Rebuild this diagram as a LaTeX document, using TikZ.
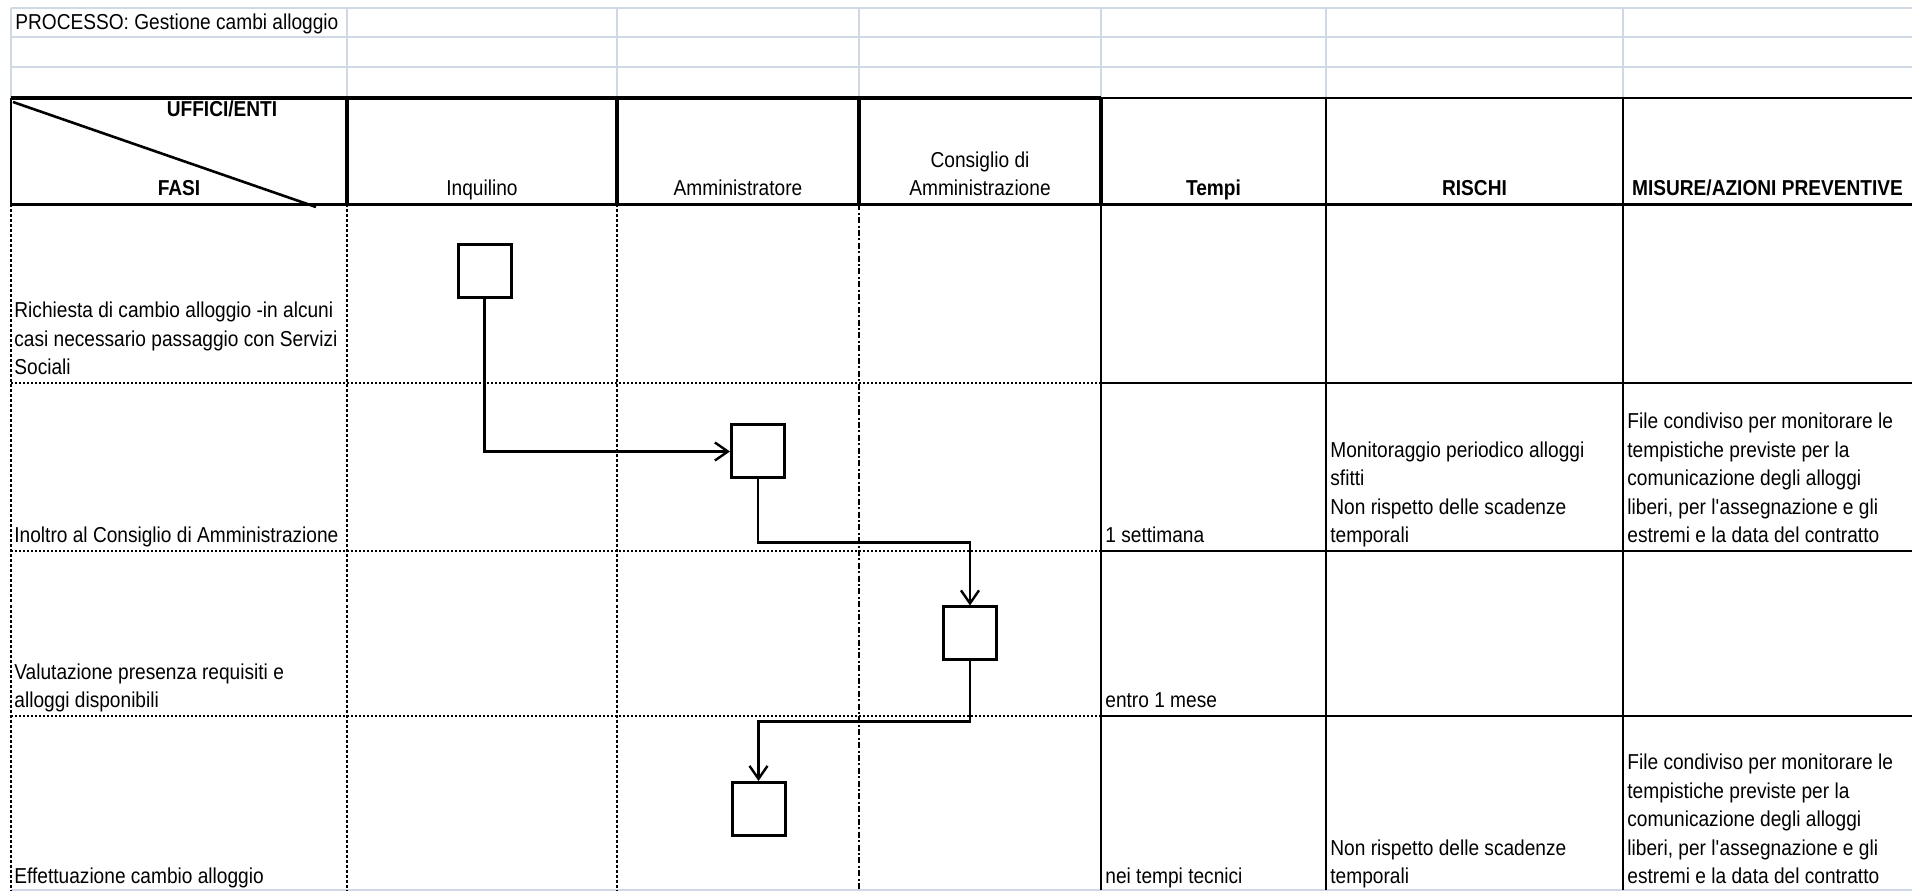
\documentclass[tikz,border=0pt]{standalone}
\usepackage{fontspec}
\setmainfont[FakeStretch=0.885]{Liberation Sans}
\usetikzlibrary{arrows.meta}
\definecolor{gridgrey}{RGB}{208,215,229}
\newcommand\lstr{\rule[-3pt]{0pt}{3pt}}
\newcommand\sq{\XeTeXglyph\XeTeXcharglyph"0027\relax}
\begin{document}
\begin{tikzpicture}[x=0.5pt,y=-0.5pt,
  txt/.style={inner sep=0pt, anchor=south west, align=left, font=\fontsize{10.8pt}{14.25pt}\selectfont},
  hd/.style={inner sep=0pt, anchor=south, align=center, font=\fontsize{10.8pt}{14.25pt}\selectfont},
  hdb/.style={inner sep=0pt, anchor=south, align=center, font=\fontsize{10.8pt}{14.25pt}\selectfont\bfseries},
  gridline/.style={draw=gridgrey, line width=1pt},
  hdline/.style={line width=1.75pt},
  medline/.style={line width=1.1pt},
  dotline/.style={line width=0.9pt, dash pattern=on 1pt off 1pt},
  vdash/.style={line width=0.6pt, dash pattern=on 1.5pt off 1pt},
  vdashdot/.style={line width=0.9pt, dash pattern=on 3pt off 1.2pt on 1pt off 1.2pt},
  box/.style={draw, line width=1.5pt, minimum width=26.5pt, minimum height=26.5pt, inner sep=0pt, fill=white},
  conn/.style={line width=1.2pt, -{Straight Barb[length=6.5pt,width=9pt]}}
]
\useasboundingbox (0,0) rectangle (1912,892);
\fill[white] (0,0) rectangle (1912,892);

% light spreadsheet grid (top rows and bottom)
\foreach \y in {8,37.5,67,98} \draw[gridline] (11,\y) -- (1912,\y);
\foreach \x in {11,347,617,859,1101,1326,1623} \draw[gridline] (\x,8) -- (\x,98);
\draw[gridline] (11,890) -- (1912,890);

% body lines
\foreach \y in {383,551,716} \draw[dotline] (11,\y) -- (1101,\y);
\foreach \y in {383,551,716} \draw[medline] (1101,\y) -- (1912,\y);
\foreach \x in {11,347,617} \draw[vdash] (\x,204.5) -- (\x,890);
\draw[vdashdot] (859,204.5) -- (859,890);
\foreach \x in {1101,1326,1623} \draw[medline] (\x,204.5) -- (\x,890);

% header
\draw[medline] (1101,98) -- (1912,98);
\draw[medline] (11,98) -- (11,204.5);
\foreach \x in {1326,1623} \draw[medline] (\x,98) -- (\x,204.5);
\draw[hdline] (11,98) -- (1101,98);
\draw[hdline] (11,204.5) -- (1912,204.5);
\foreach \x in {347,617,859,1101} \draw[hdline] (\x,98) -- (\x,204.5);
\draw[line width=1.3pt] (13,102) -- (316,207);

% texts
\node[txt] (title) at (15,36) {PROCESSO: Gestione cambi alloggio\lstr};
\node[hdb] (uffici) at (222,123) {UFFICI/ENTI\lstr};
\node[hdb] (fasi) at (179,202) {FASI\lstr};
\node[hd] (hinq) at (482,202) {Inquilino\lstr};
\node[hd] (hamm) at (738,202) {Amministratore\lstr};
\node[hd] (hcda) at (980,202) {Consiglio di\\Amministrazione\lstr};
\node[hdb] (htempi) at (1213.5,202) {Tempi\lstr};
\node[hdb] (hrischi) at (1474.5,202) {RISCHI\lstr};
\node[hdb] (hmisure) at (1767.5,202) {MISURE/AZIONI PREVENTIVE\lstr};

\node[txt] (f1) at (14,381) {Richiesta di cambio alloggio -in alcuni\\casi necessario passaggio con Servizi\\Sociali\lstr};
\node[txt] (f2) at (14,549) {Inoltro al Consiglio di Amministrazione\lstr};
\node[txt] (f3) at (14,714) {Valutazione presenza requisiti e\\alloggi disponibili\lstr};
\node[txt] (f4) at (14,890) {Effettuazione cambio alloggio\lstr};

\node[txt] (t2) at (1105,549) {1 settimana\lstr};
\node[txt] (t3) at (1105,714) {entro 1 mese\lstr};
\node[txt] (t4) at (1105,890) {nei tempi tecnici\lstr};

\node[txt] (r2) at (1330,549) {Monitoraggio periodico alloggi\\sfitti\\Non rispetto delle scadenze\\temporali\lstr};
\node[txt] (r4) at (1330,890) {Non rispetto delle scadenze\\temporali\lstr};

\node[txt] (m2) at (1627,549) {File condiviso per monitorare le\\tempistiche previste per la\\comunicazione degli alloggi\\liberi, per l\sq assegnazione e gli\\estremi e la data del contratto\lstr};
\node[txt] (m4) at (1627,890) {File condiviso per monitorare le\\tempistiche previste per la\\comunicazione degli alloggi\\liberi, per l\sq assegnazione e gli\\estremi e la data del contratto\lstr};

% flow boxes
\node[box] (b1) at (484.5,271.5) {};
\node[box] (b2) at (758,451.5) {};
\node[box] (b3) at (970,633.5) {};
\node[box] (b4) at (758.5,809) {};

\draw[conn] (b1.south) |- (b2.west);
\draw[conn] (b2.south) -- ++(0,63) -| (b3.north);
\draw[conn] (b3.south) -- ++(0,60) -| (b4.north);
\end{tikzpicture}
\end{document}
